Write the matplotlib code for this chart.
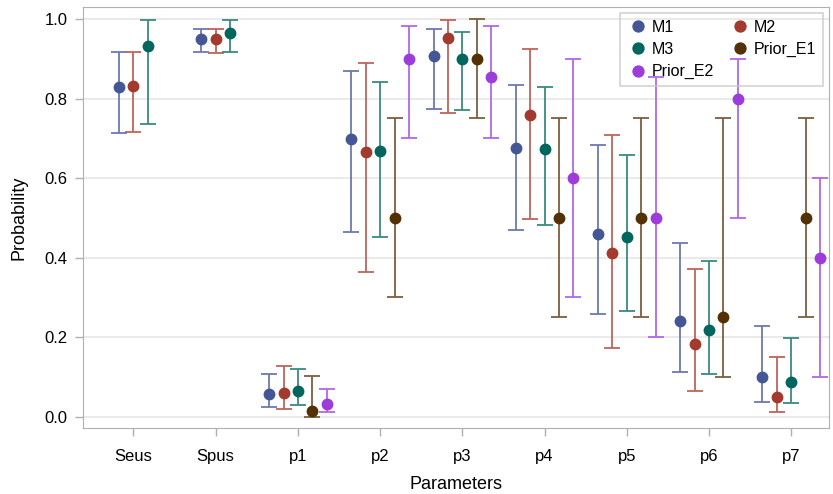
import numpy as np
import matplotlib.pyplot as plt

plt.rcParams['font.family'] = ['Liberation Sans', 'DejaVu Sans']

params = ['Seus', 'Spus', 'p1', 'p2', 'p3', 'p4', 'p5', 'p6', 'p7']
series = ['M1', 'M2', 'M3', 'Prior_E1', 'Prior_E2']

# point estimate, lower, upper (None = not present for that parameter)
m1_est = [0.828, 0.950, 0.057, 0.698, 0.907, 0.676, 0.460, 0.241, 0.100]
m1_lo = [0.713, 0.917, 0.024, 0.464, 0.774, 0.470, 0.258, 0.113, 0.038]
m1_hi = [0.917, 0.975, 0.107, 0.870, 0.975, 0.834, 0.684, 0.438, 0.229]

m2_est = [0.831, 0.950, 0.060, 0.666, 0.953, 0.759, 0.413, 0.182, 0.049]
m2_lo = [0.716, 0.914, 0.019, 0.363, 0.763, 0.497, 0.172, 0.066, 0.013]
m2_hi = [0.917, 0.975, 0.129, 0.890, 0.997, 0.925, 0.709, 0.372, 0.150]

m3_est = [0.933, 0.965, 0.065, 0.669, 0.900, 0.673, 0.453, 0.218, 0.088]
m3_lo = [0.737, 0.917, 0.031, 0.453, 0.771, 0.481, 0.266, 0.107, 0.034]
m3_hi = [0.997, 0.997, 0.121, 0.842, 0.968, 0.828, 0.658, 0.391, 0.197]

e1_est = [None, None, 0.014, 0.50, 0.90, 0.50, 0.50, 0.25, 0.50]
e1_lo = [None, None, 0.000, 0.30, 0.75, 0.25, 0.25, 0.10, 0.25]
e1_hi = [None, None, 0.103, 0.75, 1.00, 0.75, 0.75, 0.75, 0.75]

e2_est = [None, None, 0.032, 0.90, 0.853, 0.60, 0.50, 0.80, 0.40]
e2_lo = [None, None, 0.012, 0.70, 0.702, 0.30, 0.20, 0.50, 0.10]
e2_hi = [None, None, 0.070, 0.983, 0.983, 0.90, 0.855, 0.90, 0.60]

data = {
    'M1': (m1_est, m1_lo, m1_hi),
    'M2': (m2_est, m2_lo, m2_hi),
    'M3': (m3_est, m3_lo, m3_hi),
    'Prior_E1': (e1_est, e1_lo, e1_hi),
    'Prior_E2': (e2_est, e2_lo, e2_hi),
}

marker_colors = {'M1': '#445694', 'M2': '#A23A2E', 'M3': '#01665E',
                 'Prior_E1': '#543005', 'Prior_E2': '#9D3CDB'}
bar_colors = {'M1': '#6C79B0', 'M2': '#BE645B', 'M3': '#3A8A80',
              'Prior_E1': '#7D5E3E', 'Prior_E2': '#B366EA'}

fig = plt.figure(figsize=(8.33, 4.94), dpi=100)
ax = fig.add_axes([83 / 833, 1 - 428 / 494, 746 / 833, 421 / 494])

step = 0.175
handles = {}
for j, name in enumerate(series):
    est, lo, hi = data[name]
    for i in range(len(params)):
        if est[i] is None:
            continue
        # groups with only 3 series are centred on M2
        n = 3 if e1_est[i] is None else 5
        off = (j - (n - 1) / 2) * step
        x = i + off
        ax.errorbar([x], [est[i]], yerr=[[est[i] - lo[i]], [hi[i] - est[i]]],
                    fmt='none', ecolor=bar_colors[name], elinewidth=1.3,
                    capsize=6, capthick=1.3, zorder=3)
        h, = ax.plot([x], [est[i]], 'o', color=marker_colors[name],
                     markersize=7.5, zorder=4, label=name)
        handles[name] = h

ax.set_xlim(-0.614, 8.46)
ax.set_ylim(-0.028, 1.03)
ax.set_xticks(range(len(params)))
ax.set_xticklabels(params)
ax.set_yticks([0.0, 0.2, 0.4, 0.6, 0.8, 1.0])
ax.set_yticklabels(['0.0', '0.2', '0.4', '0.6', '0.8', '1.0'])
ax.grid(axis='y', color='#E6E6E6', linewidth=1.2, zorder=0)
ax.set_axisbelow(True)
for sp in ax.spines.values():
    sp.set_color('#B0B0B0')
ax.tick_params(axis='both', colors='#B0B0B0', labelcolor='black',
               labelsize=12, length=6, width=1)
ax.tick_params(axis='x', pad=9)
ax.tick_params(axis='y', pad=5)
ax.set_xlabel('Parameters', fontsize=13, labelpad=9)
ax.set_ylabel('Probability', fontsize=13, labelpad=12)

order = ['M1', 'M3', 'Prior_E2', 'M2', 'Prior_E1']
leg = ax.legend([handles[k] for k in order], order, ncol=2, loc='upper right',
                bbox_to_anchor=(1.0, 1.0), borderaxespad=0.4,
                fontsize=11.5, frameon=True,
                fancybox=False, edgecolor='#C8C8C8', facecolor='none',
                handletextpad=0.1, columnspacing=0.9, labelspacing=0.45,
                borderpad=0.4, handlelength=1.5, markerscale=1.05)
leg.get_frame().set_linewidth(1.2)

fig.savefig('out.png', dpi=100)
